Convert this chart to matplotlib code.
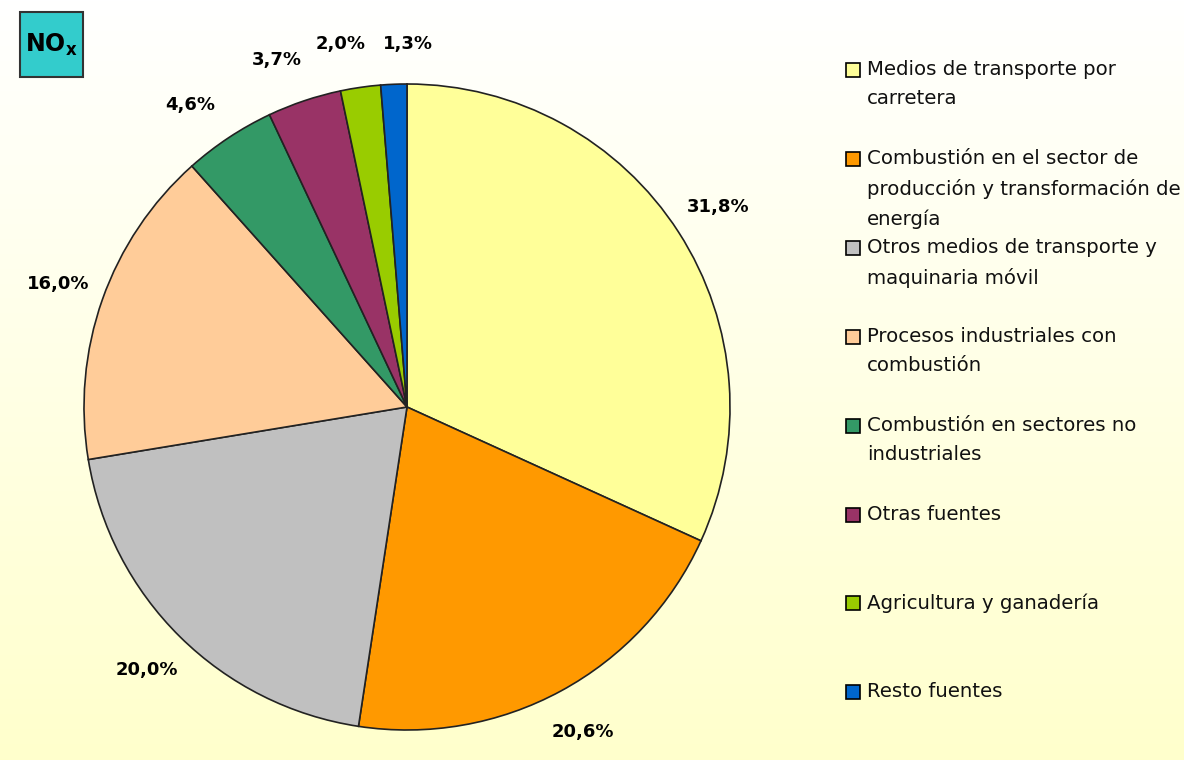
import numpy as np
import matplotlib.pyplot as plt
from matplotlib.patches import Rectangle

categories = [
    "Medios de transporte por\ncarretera",
    "Combustión en el sector de\nproducción y transformación de\nenergía",
    "Otros medios de transporte y\nmaquinaria móvil",
    "Procesos industriales con\ncombustión",
    "Combustión en sectores no\nindustriales",
    "Otras fuentes",
    "Agricultura y ganadería",
    "Resto fuentes",
]
shares = [31.8, 20.6, 20.0, 16.0, 4.6, 3.7, 2.0, 1.3]
colors = ["#FFFF99", "#FF9900", "#C0C0C0", "#FFCC99", "#339966", "#993366", "#99CC00", "#0066CC"]

W, H = 1184, 760
fig = plt.figure(figsize=(W / 100, H / 100), dpi=100)

# background gradient: white at top to pale yellow at bottom
bg = fig.add_axes([0, 0, 1, 1], zorder=-10)
grad = np.linspace(0, 1, 256).reshape(-1, 1)
top = np.array([1.0, 1.0, 1.0])
bottom = np.array([1.0, 1.0, 0.8])
img = top + (bottom - top) * grad[..., None]
bg.imshow(img, aspect="auto", extent=[0, 1, 0, 1], origin="upper")
bg.axis("off")

# pie centred at (407, 407) px with radius 323 px
cx, cy, r = 407, 407, 323
ax = fig.add_axes([(cx - r) / W, (H - cy - r) / H, 2 * r / W, 2 * r / H])
wedges, texts, autotexts = ax.pie(
    shares, colors=colors, startangle=90, counterclock=False,
    autopct=lambda p: f"{p:.1f}%".replace(".", ","), pctdistance=1.145,
    wedgeprops=dict(edgecolor="#222222", linewidth=1.2),
    textprops=dict(fontsize=13, fontweight="bold", color="black"))
ax.set_xlim(-1, 1)
ax.set_ylim(-1, 1)
ax.set_aspect("equal")

# spread the small slice labels so they don't collide
x, y = autotexts[-1].get_position()
autotexts[-1].set_position((x + 0.05, y - 0.02))
x, y = autotexts[-2].get_position()
autotexts[-2].set_position((x - 0.04, y - 0.01))
x, y = autotexts[-3].get_position()
autotexts[-3].set_position((x - 0.04, y - 0.01))
x, y = autotexts[-4].get_position()
autotexts[-4].set_position((x - 0.04, y - 0.02))

# legend drawn by hand, entries evenly spaced
y0 = 70
step = 88.9
for i, (lab, col) in enumerate(zip(categories, colors)):
    y = y0 + i * step
    fig.patches.append(Rectangle((846 / W, 1 - (y + 7) / H), 14 / W, 14 / H,
                                 transform=fig.transFigure, facecolor=col,
                                 edgecolor="black", linewidth=1.2))
    fig.text(867 / W, 1 - (y - 10) / H, lab, fontsize=14.2, va="top", ha="left",
             linespacing=1.68, color="#111111")

# NOx tag
fig.patches.append(Rectangle((20 / W, 1 - 77 / H), 63 / W, 65 / H,
                             transform=fig.transFigure, facecolor="#33CCCC",
                             edgecolor="#333333", linewidth=1.5))
fig.text(51.5 / W, 1 - 44.5 / H, r"NO$_\mathregular{x}$", fontsize=17, fontweight="bold",
         ha="center", va="center")

fig.savefig("out.png", dpi=100)
